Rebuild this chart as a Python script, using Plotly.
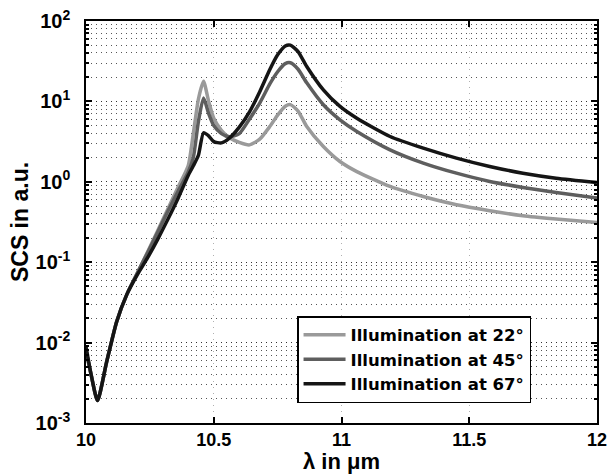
import plotly.graph_objects as go

wavelength = [10.00, 10.02, 10.045, 10.08, 10.12, 10.16, 10.20, 10.24, 10.28, 10.32,
              10.36, 10.40, 10.42, 10.44, 10.46, 10.48, 10.50, 10.53, 10.56, 10.60,
              10.64, 10.68, 10.72, 10.75, 10.78, 10.80, 10.83, 10.864, 10.929, 10.994,
              11.06, 11.19, 11.32, 11.45, 11.58, 11.71, 11.84, 12.00]

scs_22 = [0.0079, 0.0040, 0.0019, 0.0056, 0.0182, 0.0398, 0.0724, 0.132, 0.245, 0.457,
          0.851, 1.58, 3.98, 10.7, 17.8, 10.0, 6.17, 4.37, 3.55, 3.09,
          2.88, 3.39, 4.90, 6.76, 8.71, 9.12, 7.59, 4.88, 2.75, 1.79,
          1.34, 0.875, 0.656, 0.518, 0.437, 0.378, 0.344, 0.312]

scs_45 = [0.0079, 0.0040, 0.0019, 0.0056, 0.0182, 0.0398, 0.0724, 0.129, 0.234, 0.427,
          0.759, 1.32, 2.0, 5.62, 11.0, 7.08, 5.01, 3.98, 3.63, 3.98,
          6.03, 9.55, 16.6, 23.4, 29.5, 30.2, 25.1, 17.0, 9.08, 5.90,
          4.23, 2.50, 1.71, 1.28, 1.01, 0.851, 0.736, 0.627]

scs_67 = [0.0089, 0.0040, 0.0019, 0.0056, 0.0182, 0.0398, 0.069, 0.112, 0.191, 0.339,
          0.620, 1.20, 1.58, 2.14, 4.07, 3.72, 3.16, 3.05, 3.47, 4.79,
          7.41, 13.2, 25.1, 38.0, 49.0, 50.1, 41.7, 27.2, 13.9, 8.65,
          6.17, 3.66, 2.62, 1.97, 1.55, 1.28, 1.11, 0.98]

series_names = ["Illumination at 22°", "Illumination at 45°", "Illumination at 67°"]
series_colors = ["#9a9a9a", "#5e5e5e", "#151515"]

x_ticks = [10, 10.5, 11, 11.5, 12]
x_tick_labels = ["10", "10.5", "11", "11.5", "12"]
y_ticks = [1e-3, 1e-2, 1e-1, 1e0, 1e1, 1e2]
y_tick_labels = ["10<sup>-3</sup>", "10<sup>-2</sup>", "10<sup>-1</sup>",
                 "10<sup>0</sup>", "10<sup>1</sup>", "10<sup>2</sup>"]
y_minor = [m * 10.0 ** e for e in range(-3, 2) for m in range(2, 10)]

FONT = "Liberation Sans, Arial, Helvetica, sans-serif"
LEGEND_FONT = "DejaVu Sans, Liberation Sans, sans-serif"

fig = go.Figure()
for name, ys, col in zip(series_names, [scs_22, scs_45, scs_67], series_colors):
    fig.add_trace(go.Scatter(
        x=wavelength, y=ys, name=name, mode="lines",
        line=dict(color=col, width=3.5, shape="spline", smoothing=0.6),
    ))

fig.update_layout(
    width=608, height=474,
    margin=dict(l=86, r=11, t=21, b=51),
    paper_bgcolor="white", plot_bgcolor="white",
    font=dict(family=FONT, color="black", size=18, weight="bold"),
    showlegend=True,
    legend=dict(
        x=0.413, y=0.266, xanchor="left", yanchor="top",
        bgcolor="white", bordercolor="black", borderwidth=1.5,
        font=dict(family=LEGEND_FONT, size=16.5, color="black", weight="bold"),
        tracegroupgap=0, itemwidth=42,
    ),
)

fig.update_xaxes(
    range=[10, 12], tickvals=x_ticks, ticktext=x_tick_labels,
    ticks="inside", ticklen=6, tickwidth=1.5, tickcolor="black",
    showline=True, linecolor="black", linewidth=1.5, mirror="ticks",
    showgrid=True, gridcolor="#b0b0b0", griddash="1px,5px", gridwidth=1,
    zeroline=False, automargin=False,
    ticklabelstandoff=0,
    tickfont=dict(family=FONT, size=18, weight="bold"),
    title=dict(text="λ in μm", font=dict(family=FONT, size=22, weight="bold"), standoff=5),
)

fig.update_yaxes(
    type="log", range=[-3, 2], tickvals=y_ticks, ticktext=y_tick_labels,
    ticks="inside", ticklen=6, tickwidth=1.5, tickcolor="black",
    showline=True, linecolor="black", linewidth=1.5, mirror="ticks",
    showgrid=True, gridcolor="#333333", griddash="1px,4px", gridwidth=1,
    zeroline=False, automargin=False,
    ticklabelstandoff=10,
    tickfont=dict(family=FONT, size=20, weight="bold"),
    minor=dict(tickvals=y_minor, ticks="inside", ticklen=3, tickcolor="black",
               showgrid=True, gridcolor="#555555", griddash="1px,4px", gridwidth=1),
    title=dict(text="SCS in a.u.", font=dict(family=FONT, size=23, weight="bold"), standoff=0),
)

fig.write_html("out.html", config={"displayModeBar": False},
               post_script="document.body.style.margin='0';document.body.style.overflow='hidden';")
